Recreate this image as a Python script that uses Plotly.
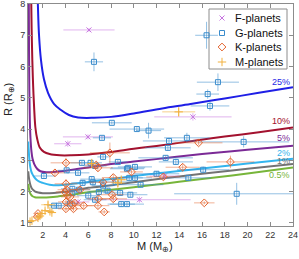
import plotly.graph_objects as go

# ---------------- data ----------------
# Model curves (mass in Earth masses, radius in Earth radii) for H/He envelope fractions
c25_m = [1.55, 1.6, 1.67, 1.84, 2.1, 2.46, 3.0, 3.6, 4.3, 5.1, 6.5, 8.0, 10.0, 12.5, 15.0, 18.0, 21.0, 24.0]
c25_r = [8.2, 7.6, 7.0, 6.21, 5.6, 5.16, 4.8, 4.61, 4.45, 4.37, 4.36, 4.39, 4.5, 4.66, 4.8, 4.98, 5.16, 5.34]
c10_m = [0.98, 1.02, 1.08, 1.15, 1.25, 1.35, 1.5, 1.75, 2.1, 2.6, 3.5, 4.5, 6.0, 8.0, 10.0, 12.0, 15.0, 18.0, 21.0, 24.0]
c10_r = [8.2, 7.2, 6.2, 5.4, 4.6, 4.05, 3.7, 3.4, 3.27, 3.2, 3.16, 3.16, 3.19, 3.27, 3.37, 3.46, 3.61, 3.76, 3.9, 4.05]
c5_m = [0.77, 0.79, 0.82, 0.86, 0.92, 1.0, 1.1, 1.25, 1.5, 1.8, 2.3, 3.0, 4.0, 5.0, 6.5, 8.0, 10.0, 13.0, 16.0, 20.0, 24.0]
c5_r = [8.2, 6.5, 5.2, 4.3, 3.7, 3.3, 3.05, 2.88, 2.73, 2.65, 2.62, 2.63, 2.67, 2.72, 2.8, 2.88, 2.96, 3.08, 3.2, 3.34, 3.47]
c2_m = [0.72, 0.76, 0.8, 0.85, 0.92, 1.0, 1.1, 1.23, 1.45, 1.7, 2.0, 2.6, 3.4, 4.5, 6.0, 8.0, 10.0, 13.0, 16.0, 20.0, 24.0]
c2_r = [3.6, 3.35, 3.12, 2.92, 2.75, 2.63, 2.55, 2.47, 2.38, 2.32, 2.28, 2.22, 2.2, 2.24, 2.31, 2.4, 2.5, 2.62, 2.74, 2.9, 3.05]
c1_m = [0.72, 0.78, 0.85, 0.95, 1.1, 1.3, 1.6, 2.0, 2.6, 3.4, 4.5, 6.0, 8.0, 10.0, 13.0, 16.0, 20.0, 24.0]
c1_r = [2.65, 2.45, 2.3, 2.17, 2.07, 2.01, 1.97, 1.95, 1.95, 1.97, 2.02, 2.12, 2.2, 2.3, 2.44, 2.57, 2.73, 2.88]
c05_m = [0.72, 0.78, 0.86, 0.95, 1.1, 1.3, 1.6, 2.0, 2.6, 3.4, 4.5, 6.0, 8.0, 10.0, 13.0, 16.0, 20.0, 24.0]
c05_r = [2.25, 2.1, 1.98, 1.91, 1.85, 1.82, 1.81, 1.81, 1.82, 1.85, 1.9, 1.98, 2.06, 2.14, 2.27, 2.4, 2.58, 2.77]
curve_labels = ["25%", "10%", "5%", "2%", "1%", "0.5%"]
label_r = [5.5, 4.26, 3.72, 3.24, 2.98, 2.54]

# Planets: mass, radius, mass error, radius error
F_m = [6.06, 15.2, 5.97, 4.2, 12.7, 10.5, 5.1]
F_r = [7.17, 4.39, 3.75, 3.53, 2.5, 1.74, 1.67]
F_me = [2.25, 3.4, 2.2, 1.2, 1.3, 4.5, 1.0]
F_re = [0.06, 0.12, 0.08, 0.1, 0.13, 0.1, 0.1]

G_m = [16.4, 6.5, 17.4, 16.5, 16.7, 8.07, 10.27, 11.3, 7.2, 13.1, 14.67, 13.0, 19.66, 7.3, 8.6, 12.8, 13.7,
       16.1, 9.5, 10.1, 12.0, 14.8, 9.6, 7.3, 6.4, 10.6, 8.8, 9.7, 19.05, 9.4, 5.44, 6.2, 4.1, 5.1, 2.1,
       4.6, 5.18, 6.0, 3.4, 3.0, 4.4, 6.6, 8.9, 6.93, 7.7, 4.6, 6.6, 9.4, 6.3, 5.5, 8.4, 10.1]
G_r = [7.0, 6.15, 5.5, 5.12, 4.74, 4.2, 4.0, 3.95, 3.72, 3.62, 3.72, 3.4, 3.59, 3.11, 2.95, 3.08, 2.95,
       2.7, 2.76, 2.79, 2.57, 2.44, 2.44, 2.19, 2.3, 2.22, 1.96, 1.9, 1.93, 1.6, 2.92, 2.92, 2.68, 2.6, 2.5,
       2.09, 2.06, 1.87, 1.55, 1.55, 1.62, 1.74, 1.6, 1.99, 2.03, 1.96, 2.82, 2.73, 2.4, 2.28, 2.31, 2.44]
G_me = [1.0, 0.8, 1.85, 1.0, 1.7, 1.75, 2.4, 1.1, 0.8, 2.3, 2.0, 2.0, 4.0, 0.5, 0.8, 2.4, 1.5,
        2.3, 1.5, 1.5, 2.0, 2.0, 1.2, 1.0, 1.0, 2.0, 1.5, 1.5, 5.5, 1.5, 1.0, 1.0, 0.8, 1.0, 0.95,
        1.0, 1.0, 1.0, 0.8, 0.6, 0.7, 1.0, 1.2, 1.0, 1.0, 0.8, 1.0, 1.5, 1.0, 1.0, 1.5, 1.5]
G_re = [0.43, 0.3, 0.28, 0.15, 0.15, 0.05, 0.06, 0.25, 0.06, 0.1, 0.16, 0.1, 0.18, 0.08, 0.08, 0.08, 0.1,
        0.1, 0.08, 0.08, 0.08, 0.08, 0.08, 0.08, 0.08, 0.08, 0.08, 0.08, 0.35, 0.08, 0.08, 0.08, 0.08, 0.08, 0.06,
        0.08, 0.08, 0.08, 0.06, 0.06, 0.06, 0.08, 0.08, 0.08, 0.08, 0.08, 0.08, 0.08, 0.08, 0.08, 0.08, 0.08]

K_m = [15.7, 7.9, 18.5, 14.3, 4.04, 3.07, 6.85, 6.7, 9.8, 8.2, 4.04, 4.1, 3.95, 5.27, 4.4, 4.2, 4.04,
       4.6, 4.04, 4.7, 4.8, 6.85, 7.4, 8.2, 8.1, 6.9, 16.2, 1.5, 1.58, 7.3, 5.6, 12.6]
K_r = [3.56, 3.24, 2.95, 2.78, 2.92, 2.6, 2.76, 2.85, 2.63, 2.45, 2.25, 2.06, 1.99, 2.06, 1.83, 1.87, 1.67,
       1.58, 1.45, 1.45, 1.64, 1.55, 1.35, 1.77, 1.9, 1.77, 1.64, 1.2, 1.3, 2.3, 1.55, 2.47]
K_me = [2.1, 1.75, 2.1, 1.5, 1.35, 0.85, 1.3, 1.0, 1.0, 1.0, 1.0, 0.8, 0.8, 0.9, 0.8, 0.6, 0.7,
        0.8, 0.7, 0.8, 0.8, 1.0, 0.5, 1.2, 1.0, 1.0, 0.9, 0.3, 0.3, 1.2, 0.8, 1.5]
K_re = [0.08, 0.33, 0.2, 0.1, 0.16, 0.1, 0.12, 0.1, 0.1, 0.1, 0.15, 0.1, 0.1, 0.1, 0.1, 0.08, 0.1,
        0.1, 0.08, 0.08, 0.1, 0.1, 0.06, 0.1, 0.1, 0.1, 0.05, 0.05, 0.05, 0.1, 0.1, 0.08]

M_m = [13.95, 0.88, 1.05, 1.58, 1.75, 1.93, 2.2, 2.63, 2.8, 2.46, 8.6, 8.9, 6.3]
M_r = [4.55, 1.04, 1.07, 1.16, 1.22, 1.3, 1.39, 1.37, 1.33, 1.58, 2.28, 2.38, 2.9]
M_me = [1.45, 0.1, 0.15, 0.2, 0.2, 0.25, 0.3, 0.3, 0.3, 0.6, 0.6, 0.5, 0.3]
M_re = [0.16, 0.03, 0.04, 0.05, 0.05, 0.05, 0.06, 0.06, 0.05, 0.1, 0.2, 0.1, 0.15]

x_ticks = [2, 4, 6, 8, 10, 12, 14, 16, 18, 20, 22, 24]
y_ticks = [1, 2, 3, 4, 5, 6, 7, 8]
legend_names = ["F-planets", "G-planets", "K-planets", "M-planets"]

# ---------------- figure ----------------
W, H = 299, 259
ML, MR, MT, MB = 28, 6, 4, 33
PW, PH = W - ML - MR, H - MT - MB
FONT = "Liberation Sans, Arial"


def px_to_paper(px, py):
    return (px - ML) / PW, (H - MB - py) / PH


fig = go.Figure()

curves = [(c25_m, c25_r, "#1f1fe6"), (c10_m, c10_r, "#a3122f"), (c5_m, c5_r, "#7b2a96"),
          (c2_m, c2_r, "#33b5ee"), (c1_m, c1_r, "#737373"), (c05_m, c05_r, "#77b53a")]

groups = [(F_m, F_r, F_me, F_re, "#c774e0", "rgba(199,116,224,0.55)", "x-thin-open", 5),
          (G_m, G_r, G_me, G_re, "#3a8ccc", "rgba(58,140,204,0.55)", "square-open", 5),
          (K_m, K_r, K_me, K_re, "#e3632d", "rgba(227,99,45,0.5)", "diamond-open", 6),
          (M_m, M_r, M_me, M_re, "#f2b13f", "rgba(242,177,63,0.6)", "cross-thin-open", 6)]

for (cm, cr, col) in curves:
    fig.add_trace(go.Scatter(x=cm, y=cr, mode="lines", line=dict(color=col, width=2, shape="spline"),
                             showlegend=False, hoverinfo="skip"))

for name, (m, r, me, re_, col, ecol, sym, sz) in zip(legend_names, groups):
    fig.add_trace(go.Scatter(
        x=m, y=r, mode="markers", name=name, showlegend=False,
        marker=dict(symbol=sym, size=sz, color=col, line=dict(color=col, width=1)),
        error_x=dict(type="data", array=me, color=ecol, thickness=1, width=0),
        error_y=dict(type="data", array=re_, color=ecol, thickness=1, width=0),
    ))

for (cm, cr, col), lab, ly in zip(curves, curve_labels, label_r):
    fig.add_annotation(x=23.9, y=ly, text=lab, showarrow=False, xanchor="right", yanchor="middle",
                       font=dict(size=9, color=col, family=FONT))

# ---- custom compact legend ----
lx0, ly0 = px_to_paper(209, 9)
lx1, ly1 = px_to_paper(287, 69)
fig.add_shape(type="rect", xref="paper", yref="paper", x0=lx0, y0=ly1, x1=lx1, y1=ly0,
              line=dict(color="#8c8c8c", width=1), fillcolor="white", layer="below")
row_py = [18, 33, 47, 62]
sym_x, _ = px_to_paper(222, 0)
txt_x, _ = px_to_paper(233, 0)
leg_sym_y = []
for name, py in zip(legend_names, row_py):
    _, yy = px_to_paper(0, py)
    leg_sym_y.append(yy)
    fig.add_annotation(x=txt_x, y=yy, xref="paper", yref="paper", text=name, showarrow=False,
                       xanchor="left", yanchor="middle", font=dict(size=11, color="#111111", family=FONT))
for (m, r, me, re_, col, ecol, sym, sz), yy in zip(groups, leg_sym_y):
    fig.add_trace(go.Scatter(x=[sym_x], y=[yy], xaxis="x2", yaxis="y2", mode="markers",
                             marker=dict(symbol=sym, size=sz, color=col, line=dict(color=col, width=1)),
                             showlegend=False, hoverinfo="skip"))

# ---- axis titles ----
tx, ty = px_to_paper(155, 247)
fig.add_annotation(x=tx, y=ty, xref="paper", yref="paper", text="M (M<sub>⊕</sub>)", showarrow=False,
                   xanchor="center", yanchor="middle", font=dict(size=11, color="#222222", family=FONT))
tx, ty = px_to_paper(9, 100)
fig.add_annotation(x=tx, y=ty, xref="paper", yref="paper", text="R (R<sub>⊕</sub>)", showarrow=False,
                   textangle=-90, xanchor="center", yanchor="middle",
                   font=dict(size=11, color="#222222", family=FONT))

axis_common = dict(showline=True, linecolor="#8c8c8c", linewidth=1, mirror="ticks",
                   ticks="inside", ticklen=4, tickcolor="#8c8c8c", showgrid=False, zeroline=False,
                   automargin=False, ticklabeloverflow="allow",
                   tickfont=dict(size=9, color="#333333", family=FONT))

fig.update_xaxes(range=[0.7, 24], tickvals=x_ticks, **axis_common)
fig.update_yaxes(range=[0.9, 8], tickvals=y_ticks, **axis_common)

fig.update_layout(
    width=W, height=H,
    margin=dict(l=ML, r=MR, t=MT, b=MB, autoexpand=False),
    paper_bgcolor="white", plot_bgcolor="white",
    showlegend=False,
    xaxis2=dict(overlaying="x", range=[0, 1], visible=False, fixedrange=True),
    yaxis2=dict(overlaying="y", range=[0, 1], visible=False, fixedrange=True),
)

fig.write_html("out.html", config={"displayModeBar": False},
               post_script="document.body.style.margin='0';document.body.style.overflow='hidden';")
